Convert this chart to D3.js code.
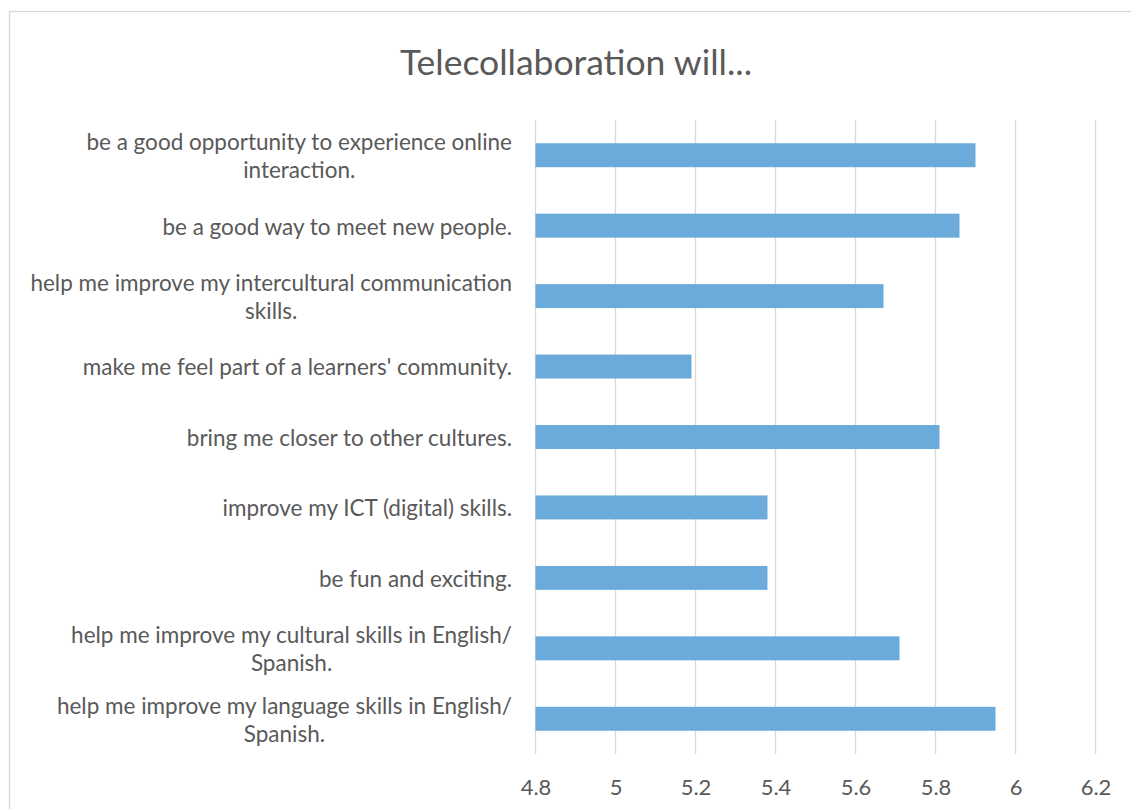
<!DOCTYPE html>
<html><head><meta charset="utf-8">
<script src="https://cdn.jsdelivr.net/npm/d3@7"></script>
<style>body{margin:0;background:#fff;} svg{display:block;}</style>
</head><body>
<svg id="c" width="1131" height="809"></svg>
<script>
const title = "Telecollaboration will...";
const categories = [
  ["be a good opportunity to experience online", "interaction."],
  ["be a good way to meet new people."],
  ["help me improve my intercultural communication", "skills."],
  ["make me feel part of a learners' community."],
  ["bring me closer to other cultures."],
  ["improve my ICT (digital) skills."],
  ["be fun and exciting."],
  ["help me improve my cultural skills in English/", "Spanish."],
  ["help me improve my language skills in English/", "Spanish."]
];
const values = [5.90, 5.86, 5.67, 5.19, 5.81, 5.38, 5.38, 5.71, 5.95];
const ticks = [4.8, 5.0, 5.2, 5.4, 5.6, 5.8, 6.0, 6.2];

const svg = d3.select("#c");
const font = "Lato, 'Open Sans', sans-serif";
const txt = "#595959";

svg.append("rect").attr("x", 9.5).attr("y", 11.5).attr("width", 1140).attr("height", 820)
  .attr("fill", "#fff").attr("stroke", "#d9d9d9").attr("stroke-width", 1.3);

const x = d3.scaleLinear().domain([4.8, 6.2]).range([535.5, 1095.5]);
const y = d3.scaleBand().domain(d3.range(categories.length)).range([120, 754])
  .paddingInner(0.66).paddingOuter(0.33);

svg.append("text").attr("x", 576).attr("y", 75).attr("text-anchor", "middle")
  .attr("font-family", font).attr("font-size", 35.5).attr("fill", txt).text(title);

// gridlines
svg.append("g").selectAll("line").data(ticks).join("line")
  .attr("x1", d => x(d)).attr("x2", d => x(d)).attr("y1", 120).attr("y2", 754)
  .attr("stroke", "#d9d9d9").attr("stroke-width", 1.3);

// x axis labels
const xAxis = d3.axisBottom(x).tickValues(ticks).tickSize(0).tickPadding(0)
  .tickFormat(d => d3.format("")(+d.toFixed(1)));
const ga = svg.append("g").attr("transform", "translate(0,779)").call(xAxis);
ga.select(".domain").remove();
ga.selectAll("text").attr("font-family", font).attr("font-size", 22).attr("fill", txt)
  .attr("dy", "0.71em");

// bars
svg.append("g").selectAll("rect").data(values).join("rect")
  .attr("x", x(4.8)).attr("y", (d, i) => y(i)).attr("height", y.bandwidth())
  .attr("width", d => x(d) - x(4.8)).attr("fill", "#6aabdc");

// category labels
const lg = svg.append("g");
categories.forEach((lines, i) => {
  const cy = y(i) + y.bandwidth() / 2;
  const lh = 28;
  const t = lg.append("text").attr("font-family", font).attr("font-size", 22.5).attr("fill", txt)
    .attr("text-anchor", "middle");
  const n = lines.length;
  lines.forEach((l, k) => {
    t.append("tspan").attr("y", cy + (k - (n - 1) / 2) * lh + 1).attr("dy", "0.35em").text(l);
  });
  const w = d3.max(t.selectAll("tspan").nodes(), nd => nd.getComputedTextLength());
  t.selectAll("tspan").attr("x", 512 - w / 2);
});
</script>
</body></html>
